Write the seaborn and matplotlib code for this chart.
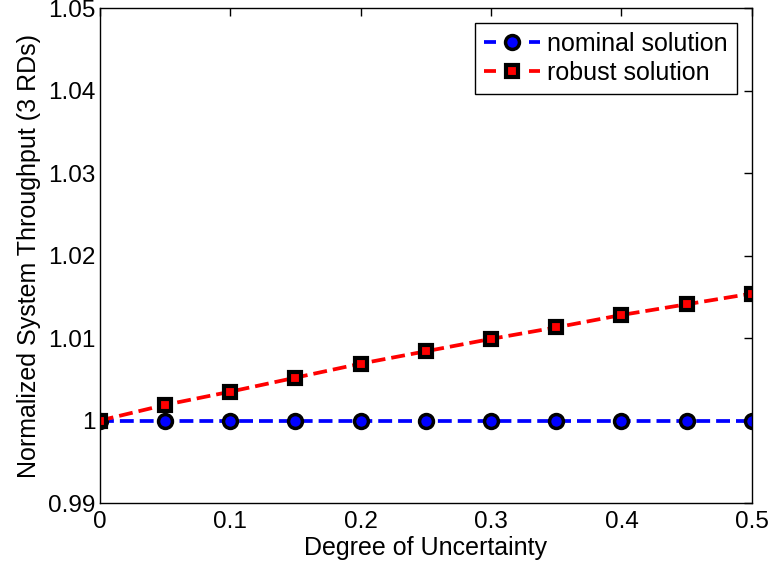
import matplotlib
matplotlib.use("Agg")
import matplotlib.pyplot as plt
import seaborn as sns
import pandas as pd

uncertainty = [0, 0.05, 0.1, 0.15, 0.2, 0.25, 0.3, 0.35, 0.4, 0.45, 0.5]
nominal = [1.0] * 11
robust = [1.0, 1.0019, 1.0035, 1.0052, 1.0069, 1.0084, 1.0099, 1.0113, 1.0128, 1.0141, 1.0154]
x_ticks = [0, 0.1, 0.2, 0.3, 0.4, 0.5]
y_ticks = [0.99, 1.0, 1.01, 1.02, 1.03, 1.04, 1.05]
y_tick_labels = ["0.99", "1", "1.01", "1.02", "1.03", "1.04", "1.05"]

sns.set_theme(style="white")
plt.rcParams['font.family'] = ['Liberation Sans', 'DejaVu Sans']
plt.rcParams['text.color'] = 'black'
plt.rcParams['axes.labelcolor'] = 'black'
plt.rcParams['xtick.color'] = 'black'
plt.rcParams['ytick.color'] = 'black'

FS_TICK = 17.5
FS_LAB = 18

df_nom = pd.DataFrame({"x": uncertainty, "y": nominal})
df_rob = pd.DataFrame({"x": uncertainty, "y": robust})

fig = plt.figure(figsize=(7.68, 5.72), dpi=100)
ax = fig.add_axes([0.130, 0.1206, 0.849, 0.865])

LW = 2.7
DASH = (2.9, 2.3)
sns.lineplot(data=df_nom, x="x", y="y", ax=ax, color="blue", linestyle="--", linewidth=LW,
             marker="o", markersize=10, markerfacecolor="blue", markeredgecolor="black",
             markeredgewidth=2.5, label="nominal solution", dashes=DASH)
sns.lineplot(data=df_rob, x="x", y="y", ax=ax, color="red", linestyle="--", linewidth=LW,
             marker="s", markersize=9, markerfacecolor="red", markeredgecolor="black",
             markeredgewidth=3, label="robust solution", dashes=DASH)

ax.set_xlim(0, 0.5)
ax.set_ylim(0.99, 1.05)
ax.set_xticks(x_ticks)
ax.set_xticklabels([("%g" % v) for v in x_ticks], fontsize=FS_TICK)
ax.set_yticks(y_ticks)
ax.set_yticklabels(y_tick_labels, fontsize=FS_TICK)
ax.set_xlabel("Degree of Uncertainty", fontsize=FS_LAB, labelpad=2, color='black')
ax.set_ylabel("Normalized System Throughput (3 RDs)", fontsize=FS_LAB, labelpad=5, color='black')
ax.tick_params(axis='both', which='both', direction='in', top=True, right=True,
               length=6, width=1, color='black', labelcolor='black')
ax.tick_params(axis='x', pad=6)
ax.tick_params(axis='y', pad=3)
for s in ax.spines.values():
    s.set_color('black')
    s.set_linewidth(1)

leg = ax.legend(loc="upper right", fontsize=FS_LAB, frameon=True, fancybox=False,
                edgecolor="black", handlelength=2.25, handletextpad=0.3,
                borderpad=0.35, labelspacing=0.2, borderaxespad=0.6)
leg.get_frame().set_linewidth(1)
leg.get_frame().set_alpha(1)
for t in leg.get_texts():
    t.set_color('black')
for ln in leg.get_lines():
    ln.set_dashes((3.2, 8.8))

fig.savefig("out.png", dpi=100)
